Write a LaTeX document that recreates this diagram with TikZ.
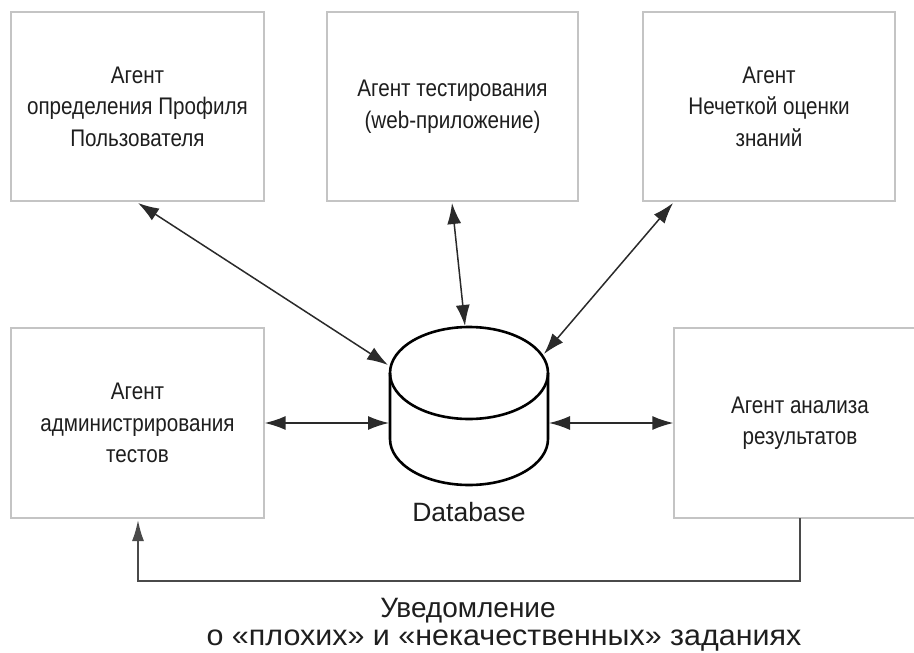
\documentclass[tikz,border=0pt]{standalone}
\usepackage{fontspec}
\setmainfont{Liberation Sans}
\newfontfamily\agentfont[FakeStretch=0.86]{Liberation Sans}
\newfontfamily\notewidefont[FakeStretch=1.05]{Liberation Sans}
\usetikzlibrary{arrows.meta}

\definecolor{boxgray}{HTML}{C4C4C4}
\definecolor{linedark}{HTML}{2A2A2A}
\definecolor{txt}{HTML}{1E1E1E}

\tikzset{
  agent/.style={draw=boxgray, line width=1.3pt, fill=white, inner sep=0pt,
    align=center, text=txt, font=\agentfont\fontsize{24}{31.5}\selectfont},
  link/.style={draw=linedark, line width=1.5pt,
    {Latex[length=21pt,width=14pt]}-{Latex[length=21pt,width=14pt]}},
  feedback/.style={draw=linedark!85, line width=1.8pt,
    -{Latex[length=21pt,width=12pt]}},
  dbline/.style={draw=black, line width=2.6pt},
  caption/.style={text=txt, inner sep=0pt},
  notetext/.style={caption, text height=17pt, text depth=3pt}
}

\begin{document}
\begin{tikzpicture}[x=1pt, y=-1pt]
\useasboundingbox (0,0) rectangle (914,653);
\clip (0,0) rectangle (914,653);

% agent boxes
\node[agent, minimum width=253pt, minimum height=189pt] (tl) at (137.5,106.5)
  {Агент\\определения Профиля\\Пользователя};
\node[agent, minimum width=251pt, minimum height=189pt] (tc) at (452.5,106.5)
  {Агент тестирования\\(web-приложение)};
\node[agent, minimum width=252pt, minimum height=189pt] (tr) at (769,106.5)
  {Агент\\Нечеткой оценки\\знаний};
\node[agent, minimum width=253pt, minimum height=190pt] (bl) at (137.5,423)
  {Агент\\администрирования\\тестов};
\node[agent, minimum width=252pt, minimum height=190pt] (br) at (800,423)
  {Агент анализа\\результатов};

% database cylinder
\coordinate (db) at (469,406);
\draw[dbline, fill=white] (390,373) -- (390,439)
  arc[start angle=180, end angle=360, x radius=79, y radius=-46]
  -- (548,373);
\draw[dbline] (469,373) ellipse[x radius=79, y radius=46];
\coordinate (dbnw) at (388,365);
\coordinate (dbn)  at (465,326);
\coordinate (dbne) at (544,354);
\coordinate (dbw)  at (389,423);
\coordinate (dbe)  at (549,423);
\node[caption, font=\fontsize{26.5}{30}\selectfont] (dblabel) at (469,512) {Database};

% links between agents and the database
\coordinate (tlfoot) at (138,203);
\coordinate (tcfoot) at (452,203);
\coordinate (trfoot) at (673,203);
\draw[link] (tlfoot) -- (dbnw);
\draw[link] (tcfoot) -- (dbn);
\draw[link] (trfoot) -- (dbne);
\draw[link] (bl.east |- dbw) -- (dbw);
\draw[link] (dbe) -- (br.west |- dbe);

% feedback from result analysis back to test administration
\coordinate (brfoot) at (800,518);
\coordinate (blfoot) at (138,520);
\draw[feedback] (brfoot) -- (800,581) -- (138,581) -- (blfoot);

\node[notetext, font=\fontsize{28}{28}\selectfont] (note1) at (468,610) {Уведомление};
\node[notetext, font=\notewidefont\fontsize{29}{28}\selectfont] (note2) at (504,638)
  {о «плохих» и «некачественных» заданиях};
\end{tikzpicture}
\end{document}
